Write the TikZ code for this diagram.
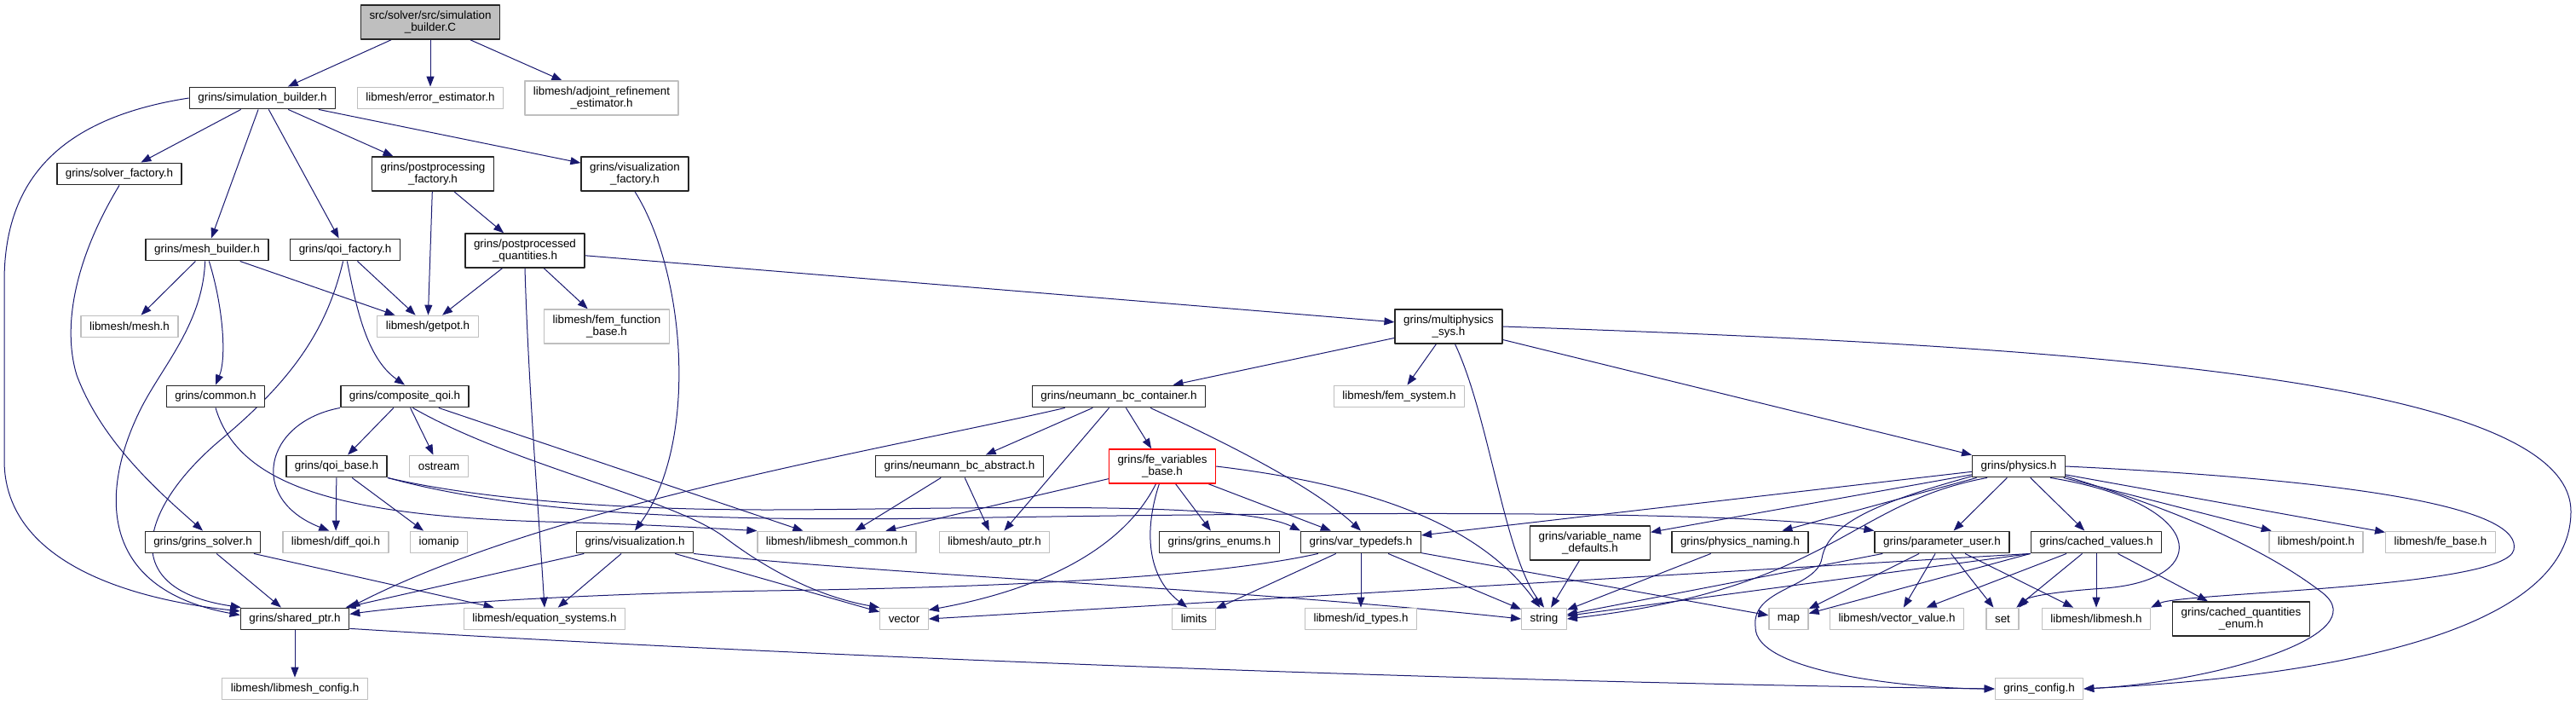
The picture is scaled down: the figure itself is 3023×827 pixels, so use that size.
\documentclass[tikz,border=0pt]{standalone}
\usepackage{fontspec}
\setmainfont{Liberation Sans}
\usepackage{xcolor}
\definecolor{dgedge}{HTML}{191970}
\definecolor{dggray}{HTML}{BFBFBF}
\usepackage{tikz}
\usetikzlibrary{arrows.meta,backgrounds}
\tikzset{
  >={Triangle[length=12pt,width=9pt]},
  every picture/.style={line cap=round, line join=round},
  filebox/.style={draw=black!85, line width=1.4pt, fill=white, inner xsep=10pt,
    minimum height=25.5pt, align=center, font=\fontsize{13.4}{14}\selectfont},
  libbox/.style={filebox, draw=dggray, line width=1.2pt},
  rootbox/.style={filebox, fill=dggray},
  twoline/.style={minimum height=40pt},
  dep/.style={dgedge, line width=1pt, ->},
}

\begin{document}
\begin{tikzpicture}[x=1pt, y=-1pt]
\useasboundingbox (0,0) rectangle (3023,827);

% ------------------------------------------------------------------ ranks 0-4
\node[rootbox, twoline] (root) at (505,26) {src/solver/src/simulation\\\_builder.C};
\node[filebox] (simb) at (308,115) {grins/simulation\_builder.h};
\node[libbox] (errest) at (505,115) {libmesh/error\_estimator.h};
\node[libbox, twoline] (adjest) at (706,115) {libmesh/adjoint\_refinement\\\_estimator.h};
\node[filebox] (solvf) at (140,204) {grins/solver\_factory.h};
\node[filebox, twoline] (ppfac) at (508,204) {grins/postprocessing\\\_factory.h};
\node[filebox, twoline] (visfac) at (745,204) {grins/visualization\\\_factory.h};
\node[filebox] (meshb) at (243,293) {grins/mesh\_builder.h};
\node[filebox] (qoif) at (405,293) {grins/qoi\_factory.h};
\node[filebox, twoline] (ppq) at (616,294) {grins/postprocessed\\\_quantities.h};
\node[libbox] (mesh) at (152,383) {libmesh/mesh.h};
\node[libbox] (getpot) at (502,383) {libmesh/getpot.h};
\node[libbox, twoline] (femfb) at (712,383) {libmesh/fem\_function\\\_base.h};
\node[filebox, twoline] (mphys) at (1700,383) {grins/multiphysics\\\_sys.h};

% ------------------------------------------------------------------ ranks 5-6
\node[filebox] (common) at (253,465) {grins/common.h};
\node[filebox] (compq) at (475,465) {grins/composite\_qoi.h};
\node[filebox] (nbcc) at (1313,465) {grins/neumann\_bc\_container.h};
\node[libbox] (femsys) at (1642,465) {libmesh/fem\_system.h};
\node[filebox] (qoib) at (395,547) {grins/qoi\_base.h};
\node[libbox] (ostr) at (515,547) {ostream};
\node[filebox] (nbca) at (1126,547) {grins/neumann\_bc\_abstract.h};
\node[filebox, twoline, draw=red] (fevar) at (1364,547) {grins/fe\_variables\\\_base.h};
\node[filebox] (phys) at (2369,547) {grins/physics.h};

% ------------------------------------------------------------------ rank 7
\node[filebox] (gsolver) at (238,636) {grins/grins\_solver.h};
\node[libbox] (diffq) at (394,636) {libmesh/diff\_qoi.h};
\node[libbox] (ioman) at (515,636) {iomanip};
\node[filebox] (vis) at (745,636) {grins/visualization.h};
\node[libbox] (lmcommon) at (982,636) {libmesh/libmesh\_common.h};
\node[libbox] (autoptr) at (1167,636) {libmesh/auto\_ptr.h};
\node[filebox] (genums) at (1431,636) {grins/grins\_enums.h};
\node[filebox] (vtypes) at (1597,636) {grins/var\_typedefs.h};
\node[filebox, twoline] (vndef) at (1866,637) {grins/variable\_name\\\_defaults.h};
\node[filebox] (pnaming) at (2042,636) {grins/physics\_naming.h};
\node[filebox] (puser) at (2279,636) {grins/parameter\_user.h};
\node[filebox] (cvals) at (2460,636) {grins/cached\_values.h};
\node[libbox] (lmpoint) at (2718,636) {libmesh/point.h};
\node[libbox] (febase) at (2864,636) {libmesh/fe\_base.h};

% ------------------------------------------------------------------ ranks 8-9
\node[filebox] (shptr) at (346,726) {grins/shared\_ptr.h};
\node[libbox] (eqsys) at (639,726) {libmesh/equation\_systems.h};
\node[libbox] (vecn) at (1061,726) {vector};
\node[libbox] (limn) at (1401,726) {limits};
\node[libbox] (idtypes) at (1597,726) {libmesh/id\_types.h};
\node[libbox] (strn) at (1812,726) {string};
\node[libbox] (mapn) at (2099,726) {map};
\node[libbox] (vvalue) at (2226,726) {libmesh/vector\_value.h};
\node[libbox] (setn) at (2350,726) {set};
\node[libbox] (lmh) at (2460,726) {libmesh/libmesh.h};
\node[filebox, twoline] (cqenum) at (2630,726) {grins/cached\_quantities\\\_enum.h};
\node[libbox] (lmconfig) at (346,808) {libmesh/libmesh\_config.h};
\node[libbox] (gconfig) at (2393,808) {grins\_config.h};

\begin{scope}[on background layer]
% ------------------------------------------------------------------ upper part
\draw[dep] (root) -- (simb);
\draw[dep] (root) -- (errest);
\draw[dep] (root) -- (adjest);
\draw[dep] (simb) -- (solvf);
\draw[dep] (simb) -- (meshb);
\draw[dep] (simb) -- (qoif);
\draw[dep] (simb) -- (ppfac);
\draw[dep] (simb) -- (visfac);
\draw[dep] (simb.west) .. controls (60,140) and (5,220) .. (5,330) -- (5,540)
  .. controls (5,650) and (130,700) .. (shptr.172);
\draw[dep] (solvf.south) .. controls (90,300) and (72,380) .. (90,440)
  .. controls (120,520) and (190,580) .. (gsolver.north);
\draw[dep] (ppfac) -- (getpot);
\draw[dep] (ppfac) -- (ppq);
\draw[dep] (visfac.south) .. controls (805,320) and (820,520) .. (vis.north);
\draw[dep] (meshb) -- (mesh);
\draw[dep] (meshb) -- (getpot);
\draw[dep] (meshb.-80) .. controls (262,360) and (266,420) .. (common.north);
\draw[dep] (meshb.-100) .. controls (238,380) and (190,430) .. (165,480)
  .. controls (120,570) and (110,690) .. (shptr.176);
\draw[dep] (qoif) -- (getpot);
\draw[dep] (qoif.-80) .. controls (418,360) and (430,420) .. (compq.north);
\draw[dep] (qoif.-100) .. controls (385,380) and (350,440) .. (260,515)
  .. controls (170,590) and (130,690) .. (shptr.168);
\draw[dep] (ppq) -- (getpot);
\draw[dep] (ppq) -- (femfb);
\draw[dep] (ppq.south) .. controls (620,450) and (632,600) .. (eqsys.north);
\draw[dep] (ppq) -- (mphys);

% ------------------------------------------------------------------ qoi side
\draw[dep] (common.south) .. controls (280,570) and (400,605) .. (640,612)
  .. controls (760,615) and (840,620) .. (lmcommon.north west);
\draw[dep] (compq) -- (qoib);
\draw[dep] (compq) -- (ostr);
\draw[dep] (compq.south west) .. controls (310,495) and (290,585) .. (diffq.120);
\draw[dep] (compq) -- (lmcommon);
\draw[dep] (compq.-55) .. controls (600,545) and (790,585) .. (850,630)
  .. controls (900,668) and (960,700) .. (vecn.north west);
\draw[dep] (qoib) -- (diffq);
\draw[dep] (qoib) -- (ioman);
\draw[dep] (qoib.south east) .. controls (560,585) and (720,598) .. (900,598)
  .. controls (1100,598) and (1450,585) .. (vtypes.north west);
\draw[dep] (qoib.south east) .. controls (600,600) and (800,612) .. (1100,608)
  .. controls (1600,600) and (2050,598) .. (puser.north west);
\draw[dep] (gsolver) -- (shptr);
\draw[dep] (gsolver) -- (eqsys);
\draw[dep] (vis) -- (shptr);
\draw[dep] (vis) -- (eqsys);
\draw[dep] (vis) -- (vecn);
\draw[dep] (vis.south east) .. controls (1050,675) and (1450,690) .. (strn.west);
\draw[dep] (shptr) -- (lmconfig);
\draw[dep] (shptr.-10) .. controls (900,768) and (1700,800) .. (gconfig.west);

% ------------------------------------------------------------------ system side
\draw[dep] (mphys) -- (nbcc);
\draw[dep] (mphys) -- (femsys);
\draw[dep] (mphys.-70) .. controls (1748,490) and (1765,650) .. (strn.north);
\draw[dep] (mphys) -- (phys);
\draw[dep] (mphys.east) .. controls (2400,405) and (3017,440) .. (3017,600)
  .. controls (3017,750) and (2700,795) .. (gconfig.east);
\draw[dep] (nbcc.-168) .. controls (1050,525) and (650,590) .. (shptr.north east);
\draw[dep] (nbcc) -- (nbca);
\draw[dep] (nbcc) -- (autoptr);
\draw[dep] (nbcc) -- (fevar);
\draw[dep] (nbcc.-20) .. controls (1440,520) and (1540,570) .. (vtypes.north);
\draw[dep] (nbca) -- (lmcommon);
\draw[dep] (nbca) -- (autoptr);
\draw[dep] (fevar) -- (lmcommon);
\draw[dep] (fevar.-110) .. controls (1320,640) and (1230,690) .. (vecn.20);
\draw[dep] (fevar.-100) .. controls (1340,630) and (1350,680) .. (limn.120);
\draw[dep] (fevar) -- (genums);
\draw[dep] (fevar) -- (vtypes);
\draw[dep] (fevar.east) .. controls (1620,570) and (1740,620) .. (strn.110);
\draw[dep] (vtypes.-165) .. controls (1400,682) and (1100,690) .. (900,693)
  .. controls (700,696) and (500,708) .. (shptr.5);
\draw[dep] (vtypes) -- (limn);
\draw[dep] (vtypes) -- (idtypes);
\draw[dep] (vtypes) -- (strn);
\draw[dep] (vtypes) -- (mapn);

% ------------------------------------------------------------------ physics
\draw[dep] (phys) -- (vtypes);
\draw[dep] (phys) -- (vndef);
\draw[dep] (phys) -- (pnaming);
\draw[dep] (phys) -- (puser);
\draw[dep] (phys) -- (cvals);
\draw[dep] (phys) -- (lmpoint);
\draw[dep] (phys) -- (febase);
\draw[dep] (phys.-160) .. controls (2170,590) and (2150,690) .. (strn.east);
\draw[dep] (phys.-168) .. controls (2200,590) and (2145,615) .. (2138,655)
  .. controls (2132,690) and (2055,690) .. (2060,735)
  .. controls (2058,790) and (2250,808) .. (gconfig.west);
\draw[dep] (phys.-20) .. controls (2590,590) and (2600,680) .. (2470,690)
  .. controls (2410,694) and (2380,700) .. (setn.north east);
\draw[dep] (phys.east) .. controls (2800,565) and (2960,600) .. (2950,645)
  .. controls (2940,690) and (2560,695) .. (lmh.north east);
\draw[dep] (phys.-12) .. controls (2560,600) and (2660,645) .. (2725,695)
  .. controls (2790,745) and (2600,800) .. (gconfig.east);
\draw[dep] (vndef) -- (strn);
\draw[dep] (pnaming) -- (strn);
\draw[dep] (puser) -- (strn);
\draw[dep] (puser) -- (mapn);
\draw[dep] (puser) -- (vvalue);
\draw[dep] (puser) -- (setn);
\draw[dep] (puser) -- (lmh);
\draw[dep] (cvals.south west) -- (strn);
\draw[dep] (cvals.south west) -- (mapn);
\draw[dep] (cvals) -- (vvalue);
\draw[dep] (cvals) -- (setn);
\draw[dep] (cvals) -- (lmh);
\draw[dep] (cvals) -- (cqenum);
\draw[dep] (cvals.south west) -- (vecn.east);
\end{scope}
\end{tikzpicture}
\end{document}
